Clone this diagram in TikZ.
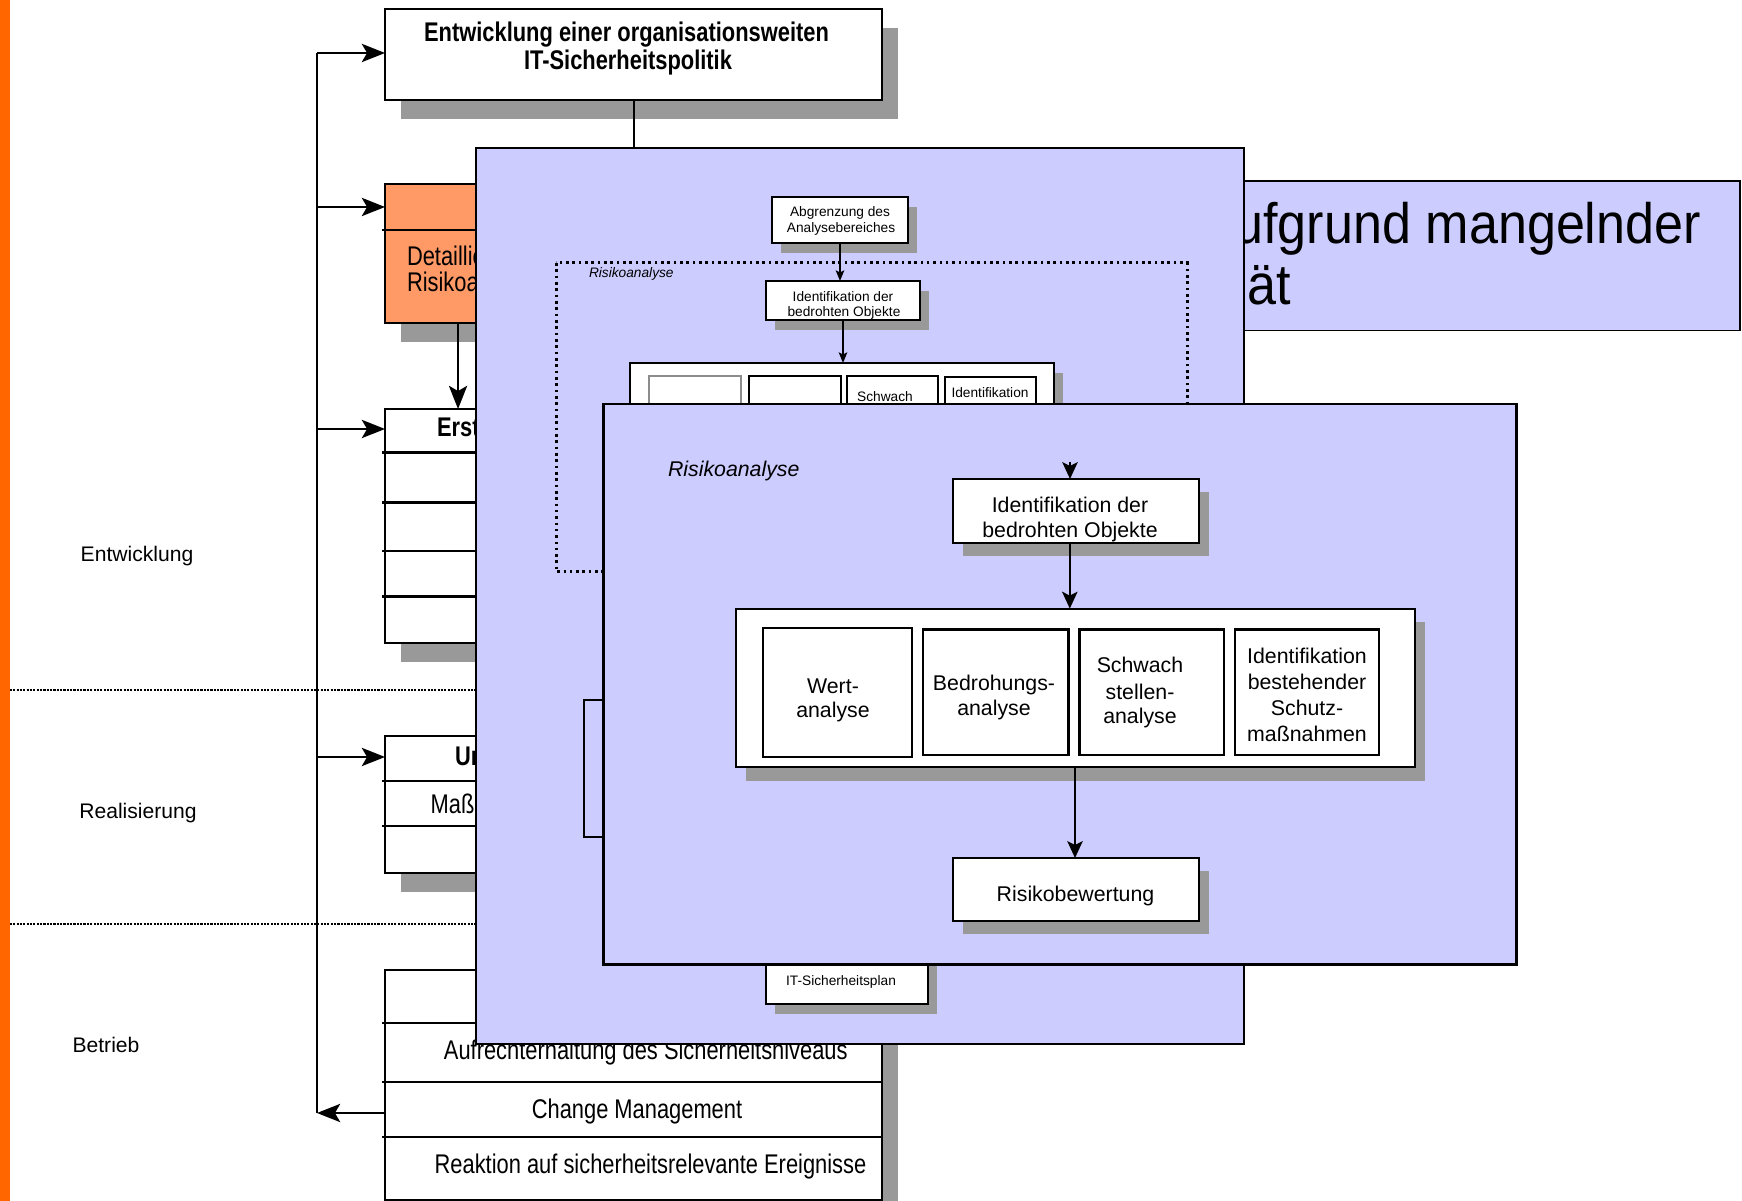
\documentclass[tikz,border=0pt]{standalone}
\usepackage{fontspec}
\setmainfont{Liberation Sans}
\newfontfamily\narrowfont[FakeStretch=0.81]{Liberation Sans}
\newfontfamily\headfont[FakeStretch=0.915]{Liberation Sans}
\usetikzlibrary{arrows.meta,shadows,fit}

\definecolor{barorange}{HTML}{FF6600}
\definecolor{boxorange}{HTML}{FF9966}
\definecolor{panelblue}{HTML}{CCCCFF}
\definecolor{shadowgray}{HTML}{999999}

% font sizes (one unit of the drawing = 0.1 mm = 0.2845 pt)
\newcommand\fTitle{\narrowfont\fontsize{7.68}{8}\selectfont\bfseries}
\newcommand\fRow{\narrowfont\fontsize{7.68}{8}\selectfont}
\newcommand\fPhase{\fontsize{6.0}{7}\selectfont}
\newcommand\fStep{\fontsize{6.06}{7}\selectfont}
\newcommand\fMini{\fontsize{3.9}{4.5}\selectfont}
\newcommand\fHuge{\headfont\fontsize{16.2}{18}\selectfont}

\begin{document}
\begin{tikzpicture}[x=0.01cm, y=-0.01cm, line width=0.57pt,
  every node/.style={inner sep=0pt, outer sep=0pt},
  whitebox/.style={draw=black, fill=white},
  panel/.style={draw=black, fill=panelblue, line width=0.68pt},
  leftshadow/.style={drop shadow={shadow xshift=0.16cm, shadow yshift=-0.19cm, fill=shadowgray, draw=none, opacity=1}},
  stepshadow/.style={drop shadow={shadow xshift=0.10cm, shadow yshift=-0.13cm, fill=shadowgray, draw=none, opacity=1}},
  minishadow/.style={drop shadow={shadow xshift=0.09cm, shadow yshift=-0.10cm, fill=shadowgray, draw=none, opacity=1}},
  bigarrow/.style={-{Stealth[length=6.6pt, width=5.2pt, inset=1.5pt]}},
  steparrow/.style={-{Stealth[length=4.8pt, width=4.4pt, inset=1.1pt]}},
  miniarrow/.style={-{Stealth[length=3pt, width=2.4pt, inset=0.6pt]}},
  divider/.style={line width=0.65pt},
  phasesep/.style={line width=0.35pt, dash pattern=on 0.6pt off 0.35pt},
  dotframe/.style={line width=0.85pt, dash pattern=on 0.75pt off 1.05pt},
]
\useasboundingbox (0,0) rectangle (1742,1201);
\fill[white] (0,0) rectangle (1742,1201);

% orange margin bar
\fill[barorange] (0,0) rectangle (10,1201);

% phase separators and phase names
\draw[phasesep] (10,690) -- (477,690);
\draw[phasesep] (10,924) -- (477,924);
\node[anchor=base, font=\fPhase] (phase1) at (137,562) {Entwicklung};
\node[anchor=base, font=\fPhase] (phase2) at (138,819) {Realisierung};
\node[anchor=base, font=\fPhase] (phase3) at (106,1052.7) {Betrieb};

% ---------- left column of process boxes ----------
\node[whitebox, line width=0.65pt, leftshadow, fit={(385,9) (882,100)}] (policy) {};
\node[anchor=base, font=\fTitle] (policyA) at (626.5,42) {Entwicklung einer organisationsweiten};
\node[anchor=base, font=\fTitle] (policyB) at (628,70) {IT-Sicherheitspolitik};

\node[whitebox, fill=boxorange, line width=0.65pt, leftshadow, fit={(385,184) (882,323)}] (detail) {};
\draw[divider] (382,230) -- (882,230);
\node[anchor=base west, font=\fRow] (detailA) at (407,266) {Detaillie};
\node[anchor=base west, font=\fRow] (detailB) at (407,291.5) {Risikoa};

\node[whitebox, line width=0.65pt, leftshadow, fit={(385,409) (882,643)}] (concept) {};
\foreach \yy in {452.5,502.5,550.7,596.4} \draw[divider] (382,\yy) -- (882,\yy);
\node[anchor=base west, font=\fTitle] (conceptA) at (437,437) {Erst};

\node[whitebox, line width=0.65pt, leftshadow, fit={(385,736) (882,873)}] (realize) {};
\draw[divider] (382,781) -- (882,781);
\draw[divider] (382,826) -- (882,826);
\node[anchor=base west, font=\fTitle] (realizeA) at (455,765.5) {Ur};
\node[anchor=base west, font=\fRow] (realizeB) at (430.7,814) {Maß};

\node[whitebox, line width=0.65pt, leftshadow, fit={(385,970) (882,1200)}] (operate) {};
\draw[divider] (382,1022.7) -- (882,1022.7);
\draw[divider] (382,1082) -- (882,1082);
\draw[divider] (382,1136.7) -- (882,1136.7);
\node[anchor=base, font=\fRow] (operateA) at (645.8,1060) {Aufrechterhaltung des Sicherheitsniveaus};
\node[anchor=base, font=\fRow] (operateB) at (637,1119) {Change Management};
\node[anchor=base, font=\fRow] (operateC) at (650.5,1173.3) {Reaktion auf sicherheitsrelevante Ereignisse};

% feedback loop on the left
\coordinate (v1) at (317,53);
\coordinate (v2) at (317,207);
\coordinate (v3) at (317,429);
\coordinate (v4) at (317,757);
\coordinate (v5) at (317,1113);
\draw (v1) -- (v5);
\draw[bigarrow] (v1) -- (v1 -| policy.west);
\draw[bigarrow] (v2) -- (v2 -| detail.west);
\draw[bigarrow] (v3) -- (v3 -| concept.west);
\draw[bigarrow] (v4) -- (v4 -| realize.west);
\draw[bigarrow] (v5 -| operate.west) -- (v5);
\draw[bigarrow] ([xshift=0.73cm]detail.south west) -- ([xshift=0.73cm]concept.north west);

% ---------- background panel with large heading ----------
\node[panel, line width=0.5pt, fit={(1150,181) (1740,330.5)}] (backpanel) {};
\node[anchor=base east, font=\fHuge] (backA) at (1701,244) {ufgrund mangelnder};
\node[anchor=base east, font=\fHuge] (backB) at (1291,305) {ät};

% ---------- middle panel ----------
\node[panel, fit={(476,148) (1244,1044)}] (midpanel) {};
\draw (policy.south) -- (policy.south |- midpanel.north);

\draw[dotframe] (556,263) rectangle (1187,572);
\node[anchor=base west, font=\fMini\itshape] (midtitle) at (589,278) {Risikoanalyse};

\node[whitebox, minishadow, fit={(772,197) (908,243)}] (scopebox) {};
\node[anchor=base, font=\fMini] at (840,217) {Abgrenzung des};
\node[anchor=base, font=\fMini] at (841,233) {Analysebereiches};

\node[whitebox, minishadow, fit={(766,281) (920,320)}] (objsmall) {};
\node[anchor=base, font=\fMini] at (843,302) {Identifikation der};
\node[anchor=base, font=\fMini] at (844,317) {bedrohten Objekte};

\node[whitebox, minishadow, fit={(630,363) (1054,470)}] (groupsmall) {};
\node[whitebox, draw=black!45, fit={(649,376) (741,470)}] (gs1) {};
\node[whitebox, fit={(749,376) (841,470)}] (gs2) {};
\node[whitebox, fit={(847,376) (938,470)}] (gs3) {};
\node[whitebox, fit={(945,377) (1036,470)}] (gs4) {};
\node[anchor=base, font=\fMini] at (885,401.7) {Schwach};
\node[anchor=base, font=\fMini] at (990,397.7) {Identifikation};

\draw[miniarrow] (scopebox.south) -- (scopebox.south |- objsmall.north);
\draw[miniarrow] (objsmall.south) -- (objsmall.south |- groupsmall.north);

\node[panel, line width=0.57pt, fit={(584,700) (700,837)}] (bracket) {};

\node[whitebox, minishadow, fit={(766,950) (928,1004)}] (planbox) {};
\node[anchor=base, font=\fMini] at (841,986) {IT-Sicherheitsplan};

% ---------- front panel ----------
\node[panel, fit={(603.5,404) (1516.5,964.5)}] (frontpanel) {};
\node[anchor=base west, font=\fStep\itshape] (fronttitle) at (668,476.5) {Risikoanalyse};

\node[whitebox, stepshadow, fit={(952.6,479) (1199,542.7)}] (objbox) {};
\node[anchor=base, font=\fStep] at (1070,512.5) {Identifikation der};
\node[anchor=base, font=\fStep] at (1070,538) {bedrohten Objekte};

\node[whitebox, stepshadow, fit={(735.5,608.6) (1414.5,767.5)}] (groupbig) {};
\node[whitebox, fit={(763,628.5) (911.6,757)}] (wert) {};
\node[whitebox, line width=0.8pt, fit={(923,629.5) (1068.5,755)}] (bedr) {};
\node[whitebox, line width=0.8pt, fit={(1079.5,629.5) (1224,755)}] (schw) {};
\node[whitebox, line width=0.8pt, fit={(1235,629.5) (1379,755)}] (schutz) {};
\node[anchor=base, font=\fStep] at (833,694) {Wert-};
\node[anchor=base, font=\fStep] at (833,717.5) {analyse};
\node[anchor=base, font=\fStep] at (994,690.5) {Bedrohungs-};
\node[anchor=base, font=\fStep] at (994,715.5) {analyse};
\node[anchor=base, font=\fStep] at (1140,672.5) {Schwach};
\node[anchor=base, font=\fStep] at (1140,700) {stellen-};
\node[anchor=base, font=\fStep] at (1140,724) {analyse};
\node[anchor=base, font=\fStep] at (1307,664) {Identifikation};
\node[anchor=base, font=\fStep] at (1307,690) {bestehender};
\node[anchor=base, font=\fStep] at (1307,715.5) {Schutz-};
\node[anchor=base, font=\fStep] at (1307,741.5) {maßnahmen};

\node[whitebox, stepshadow, fit={(952.6,858) (1199,921)}] (ratebox) {};
\node[anchor=base, font=\fStep] at (1075.5,901.5) {Risikobewertung};

\coordinate (entry) at (1070,462);
\draw[steparrow] (entry) -- (entry |- objbox.north);
\draw[steparrow] ([xshift=-0.06cm]objbox.south) -- ([xshift=-0.06cm]objbox.south |- groupbig.north);
\draw[steparrow] (groupbig.south) -- (groupbig.south |- ratebox.north);
\end{tikzpicture}
\end{document}
